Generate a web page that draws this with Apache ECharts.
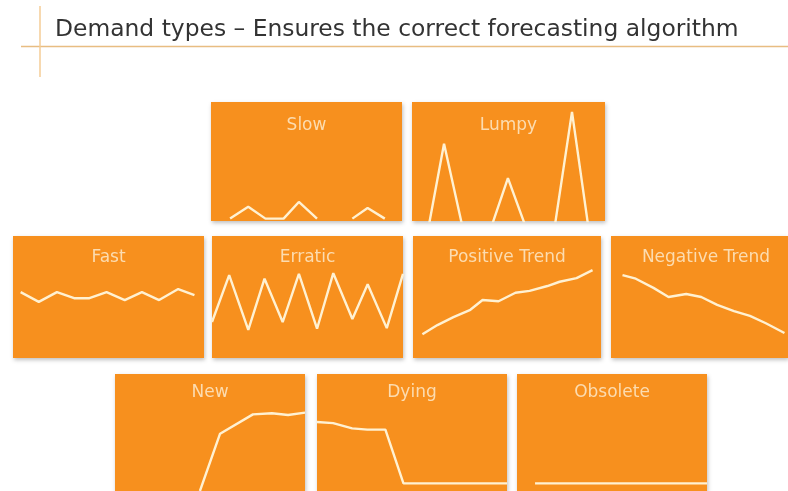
<!DOCTYPE html>
<html>
<head>
<meta charset="utf-8">
<script src="https://cdn.jsdelivr.net/npm/echarts@6/dist/echarts.min.js"></script>
<style>
  html, body { margin: 0; padding: 0; background: #ffffff; }
  #chart { width: 788px; height: 491px; }
</style>
</head>
<body>
<div id="chart"></div>
<script>
// demand type names, in panel order
const panelNames = ["Slow", "Lumpy", "Fast", "Erratic", "Positive Trend", "Negative Trend", "New", "Dying", "Obsolete"];

// [time %, demand %] ('-' = no line)
const slowPoints = [[10, 2], [19.5, 12], [28.5, 2], [38, 2], [46, 16], [55.5, 2], [65, "-"], [74, 2], [82, 11], [91, 2]];
const lumpyPoints = [[8.8, 0], [16.6, 66], [25.9, 0], [41.5, 0], [49.7, 38], [58.5, 0], [74.1, 0], [82.9, 92], [91.2, 0]];
const fastPoints = [[4, 54], [13.5, 46], [23, 54], [32, 49], [40, 49], [49, 54], [58.5, 47.5], [67.5, 54], [76.5, 47.5], [86.5, 56.5], [95, 51.5]];
const erraticPoints = [[0, 29.5], [9, 68], [19, 23], [27.5, 65], [37, 29.5], [45.5, 69], [55, 24], [63.5, 69.5], [73.5, 32], [81.5, 60.5], [91.5, 24.5], [100, 69]];
const positivePoints = [[5, 19.5], [13, 27], [21.5, 33.5], [30.5, 39.5], [37, 47.5], [45.5, 46.5], [54.5, 53.5], [62, 55], [71.5, 59], [78, 62.5], [87, 65.5], [95.5, 72]];
const negativePoints = [[6.5, 68], [14, 65], [24, 57.5], [32.5, 50], [42.5, 52.5], [51, 50], [60, 43.5], [69.5, 38.5], [78.5, 34.5], [87.5, 28.5], [98, 20.5]];
const newPoints = [[44.7, 0], [55.3, 49], [72.6, 65.5], [82.6, 66.5], [91.1, 65], [100, 67]];
const dyingPoints = [[0, 59], [8.5, 58], [18.5, 53.5], [26.5, 52.5], [36, 52.5], [45.5, 6.5], [100, 6.5]];
const obsoletePoints = [[9.5, 6.5], [100, 6.5]];

const panelData = [slowPoints, lumpyPoints, fastPoints, erraticPoints, positivePoints, negativePoints, newPoints, dyingPoints, obsoletePoints];

// panel boxes on the slide: left, top, width, height, title top, y-axis floor
const panelBoxes = [
  [211, 102, 191, 119, 117, 0],
  [412, 102, 193, 119, 117, 3],
  [13, 236, 191, 122, 249, 0],
  [212, 236, 191, 122, 249, 0],
  [413, 236, 188, 122, 249, 0],
  [611, 236, 190, 122, 249, 0],
  [115, 374, 190, 122, 384, 0],
  [317, 374, 190, 122, 384, 0],
  [517, 374, 190, 122, 384, 0],
];

const chart = echarts.init(document.getElementById("chart"));

const grids = [];
const xAxes = [];
const yAxes = [];
const series = [];
const titles = [
  {
    text: "Demand types \u2013 Ensures the correct forecasting algorithm",
    left: 55,
    top: 18,
    padding: 0,
    textStyle: {
      fontFamily: "DejaVu Sans",
      fontSize: 23.4,
      fontWeight: "normal",
      color: "#333333",
    },
  },
];

panelBoxes.forEach((box, i) => {
  grids.push({
    show: true,
    left: box[0],
    top: box[1],
    width: box[2],
    height: box[3],
    backgroundColor: "#f7901e",
    borderWidth: 0,
    shadowBlur: 4,
    shadowColor: "rgba(0, 0, 0, 0.25)",
    shadowOffsetX: 1,
    shadowOffsetY: 2,
  });
  xAxes.push({ type: "value", gridIndex: i, min: 0, max: 100, show: false });
  yAxes.push({ type: "value", gridIndex: i, min: box[5], max: 100, show: false });
  series.push({
    type: "line",
    xAxisIndex: i,
    yAxisIndex: i,
    data: panelData[i],
    symbol: "none",
    connectNulls: false,
    lineStyle: { color: "#fff1d2", width: 2.4 },
    silent: true,
  });
  titles.push({
    text: panelNames[i],
    left: box[0] + box[2] / 2,
    top: box[4],
    textAlign: "center",
    padding: 0,
    textStyle: {
      fontFamily: "DejaVu Sans",
      fontSize: 17,
      fontWeight: "normal",
      color: "#fcdcb0",
    },
  });
});

chart.setOption({
  animation: false,
  backgroundColor: "#ffffff",
  title: titles,
  grid: grids,
  xAxis: xAxes,
  yAxis: yAxes,
  series: series,
  graphic: [
    {
      type: "line",
      shape: { x1: 21, y1: 46.5, x2: 788, y2: 46.5 },
      style: { stroke: "#e8bd82", lineWidth: 1.5 },
    },
    {
      type: "line",
      shape: { x1: 40, y1: 6, x2: 40, y2: 77 },
      style: { stroke: "#f5cd96", lineWidth: 1.5 },
    },
  ],
});
</script>
</body>
</html>
